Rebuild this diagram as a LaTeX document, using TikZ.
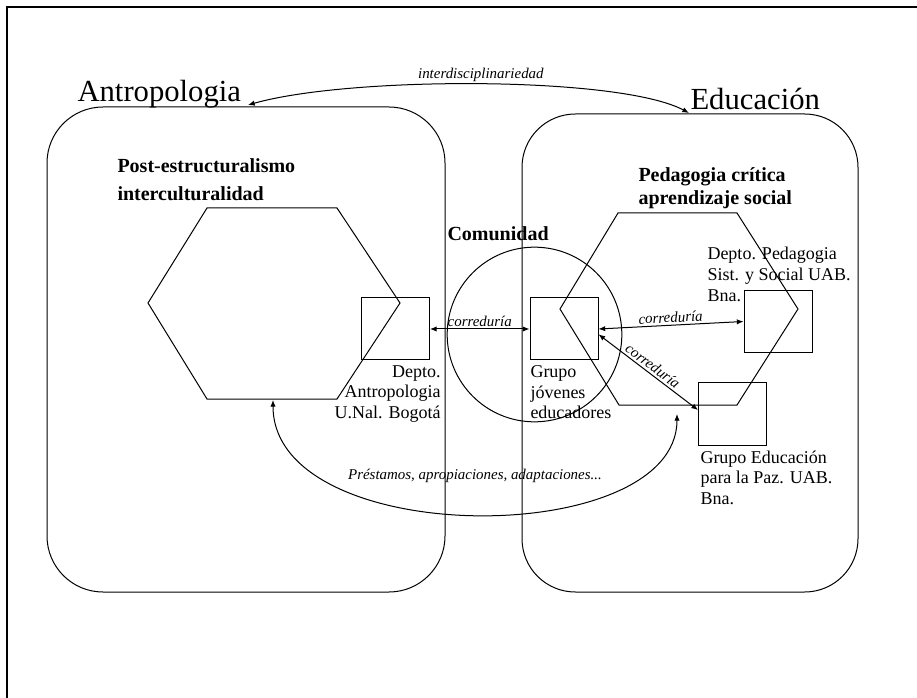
\documentclass[tikz,border=0pt]{standalone}
\usepackage{fontspec}
\setmainfont{Liberation Serif}
\usepackage{tikz}
\usetikzlibrary{arrows.meta,positioning}

\begin{document}
\begin{tikzpicture} [
        x = {(0.75pt,0)}, y = {(0,-0.75pt)},
        line width = 0.75pt,
        box/.style = { draw, minimum width = 51pt, minimum height = 46.5pt, inner sep = 0 },
        area/.style = { font = \fontsize{23}{26}\selectfont, inner sep = 0 },
        hd/.style = { font = \fontsize{15}{21}\selectfont\bfseries, inner sep = 0, align = left },
        txt/.style = { font = \fontsize{13.5}{15.5}\selectfont, inner sep = 0 },
        rel/.style = { font = \fontsize{11.2}{12}\selectfont\itshape, inner sep = 1.5pt },
        link/.style = { {Latex[length=5pt,width=4pt]}-{Latex[length=5pt,width=4pt]} }
        ]
        \useasboundingbox (0,0) rectangle (917,698);
        \draw[line width = 2pt] (7,698) -- (7,7) -- (917,7);

        \draw[rounded corners = 42pt] (47,107) rectangle (445,592);
        \draw[rounded corners = 40pt] (522,114) rectangle (858,592);

        \draw (148,303) -- (207,208) -- (337,208) -- (400,303) -- (337,399) -- (207,399) -- cycle;
        \draw (560,309) -- (618,213) -- (737,213) -- (798,309) -- (737,405) -- (619,405) -- cycle;
        \coordinate (hexbot) at (273,400);

        \node[area, anchor = base west] (antroT) at (77,102) {Antropologia};
        \node[area, anchor = base west] (eduT) at (690,110) {Educación};
        \coordinate (antroTip) at (248,105);
        \coordinate (eduTip) at (689,113);

        \node[hd, anchor = north west] (postT) at (117,158) {Post-estructuralismo\\interculturalidad};
        \node[hd, anchor = north west, font = \fontsize{15}{17}\selectfont\bfseries] (pedT) at (638,167) {Pedagogia crítica\\aprendizaje social};
        \node[hd, anchor = base west] (comT) at (447,241) {Comunidad};

        \node[draw, circle, minimum size = 131pt, inner sep = 0] (comu) at (534.5,334.5) {};

        \node[box] (antro) at (395.5,329) {};
        \node[box] (grupo) at (564,329) {};
        \node[box] (pedag) at (778,321.5) {};
        \node[box] (paz) at (732.5,414) {};
        \coordinate (pazTip) at (677,414);

        \node[txt, anchor = north east, align = right] (antroL) at (441,365) {Depto.\\Antropologia\\U.Nal. Bogotá};
        \node[txt, anchor = north west, align = left] (grupoL) at (530,365) {Grupo\\jóvenes\\educadores};
        \node[txt, anchor = north west, align = left] (pedagL) at (707,247) {Depto. Pedagogia\\Sist. y Social UAB.\\Bna.};
        \node[txt, anchor = north west, align = left] (pazL) at (700,450) {Grupo Educación\\para la Paz. UAB.\\Bna.};

        \draw[link] (antroTip) .. controls (350,76) and (620,76) .. (eduTip) node[rel, pos = 0.5, above] {interdisciplinariedad};
        \draw[link] (antro.east) -- (grupo.west) node[rel, midway, above] {correduría};
        \draw[link] (grupo.east) -- (pedag.west) node[rel, midway, above, sloped] {correduría};
        \draw[link] ([yshift = -4pt]grupo.east) -- ([yshift = 3pt]paz.west) node[rel, midway, above, sloped] {correduría};
        \draw[link] (hexbot) .. controls (273,550) and (677,550) .. (pazTip) node[rel, midway, above = 22pt] {Préstamos, apropiaciones, adaptaciones...};
    \end{tikzpicture}
\end{document}
